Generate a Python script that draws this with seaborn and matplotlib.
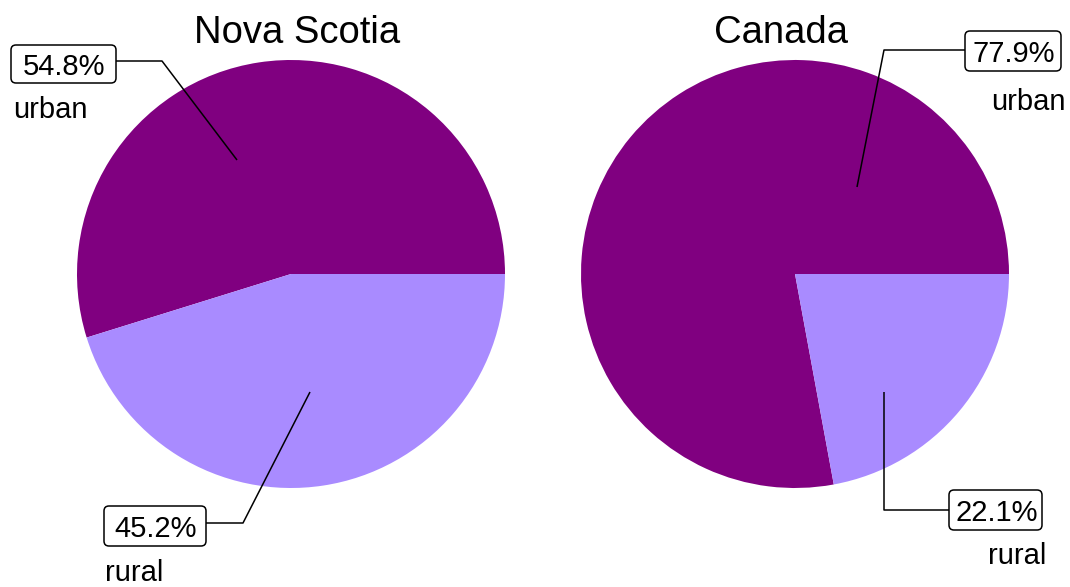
import matplotlib
matplotlib.use("Agg")
import matplotlib.pyplot as plt
from matplotlib.patches import FancyBboxPatch
import seaborn as sns

# ---- data ----
regions = ["Nova Scotia", "Canada"]
categories = ["urban", "rural"]
nova_scotia = [54.8, 45.2]
canada = [77.9, 22.1]
colors = ["#800080", "#A98BFF"]

sns.set_theme(style="white")
plt.rcParams["font.family"] = ["Liberation Sans", "DejaVu Sans"]

W, H = 1070, 587
fig = plt.figure(figsize=(W / 100, H / 100), dpi=100)

def Y(py):
    return H - py

# pie axes (pixel layout)
R = 214
centers = [(291, 274), (795, 274)]
for (cx, cy), vals in zip(centers, [nova_scotia, canada]):
    ax = fig.add_axes([(cx - R) / W, (H - cy - R) / H, 2 * R / W, 2 * R / H])
    ax.pie(vals, colors=colors, startangle=0, counterclock=True, radius=1,
           wedgeprops=dict(linewidth=0))
    ax.set_xlim(-1, 1)
    ax.set_ylim(-1, 1)
    ax.set_aspect("auto")
    ax.axis("off")

# overlay for labels in pixel coordinates
ov = fig.add_axes([0, 0, 1, 1], zorder=10)
ov.set_xlim(0, W)
ov.set_ylim(0, H)
ov.axis("off")
ov.patch.set_alpha(0)

# titles
ov.text(297.5, Y(43), regions[0], ha="center", va="baseline", fontsize=27.5, color="black")
ov.text(781, Y(43), regions[1], ha="center", va="baseline", fontsize=27.5, color="black")

# label layout: (leader polyline, box (x0,x1,y0,y1), name position)
layout = [
    (nova_scotia[0], categories[0], [(237, 160), (162, 61), (116, 61)], (11, 116, 45, 83), (13, 118)),
    (nova_scotia[1], categories[1], [(310, 392), (243, 523), (206, 523)], (104, 206, 506, 546), (105, 581)),
    (canada[0], categories[0], [(857, 187), (884, 50), (965, 50)], (965, 1061, 31, 71), (991, 110)),
    (canada[1], categories[1], [(884, 392), (884, 510), (949, 510)], (949, 1042, 490, 530), (988, 564)),
]

for val, name, line, (x0, x1, y0, y1), (tx, ty) in layout:
    xs = [p[0] for p in line]
    ys = [Y(p[1]) for p in line]
    ov.plot(xs, ys, color="black", lw=1.1, solid_capstyle="butt")
    box = FancyBboxPatch((x0, Y(y1)), x1 - x0, y1 - y0,
                         boxstyle="round,pad=0,rounding_size=5",
                         fc="white", ec="black", lw=1.1)
    ov.add_patch(box)
    ov.text((x0 + x1) / 2 + 1, Y((y0 + y1) / 2), f"{val:.1f}%", ha="center", va="center_baseline",
            fontsize=21, color="black")
    ov.text(tx, Y(ty), name, ha="left", va="baseline", fontsize=21, color="black")

fig.savefig("out.png", dpi=100)
